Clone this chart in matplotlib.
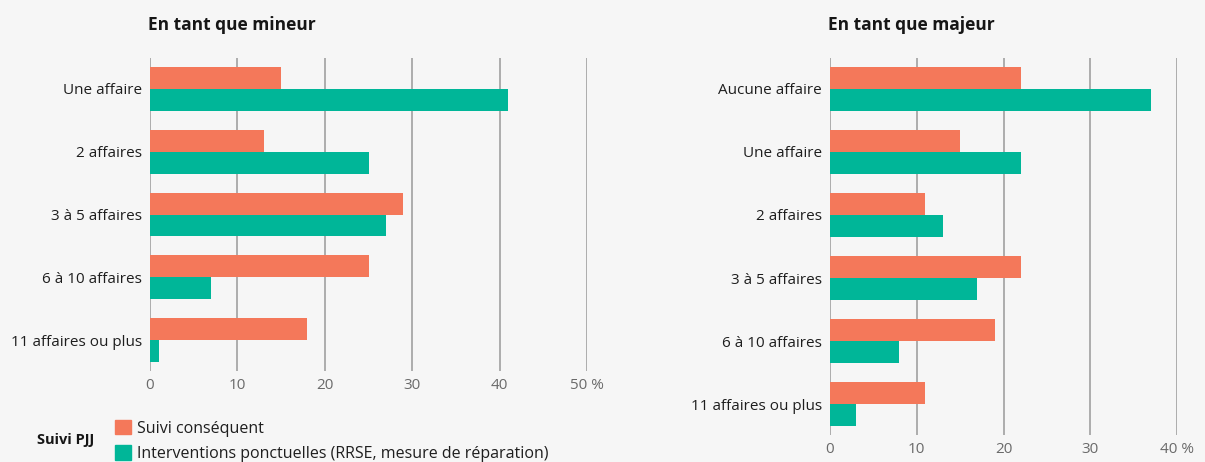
import matplotlib.pyplot as plt
from matplotlib.patches import Patch

# Données
cat_mineur = ["Une affaire", "2 affaires", "3 à 5 affaires", "6 à 10 affaires", "11 affaires ou plus"]
suivi_mineur = [15, 13, 29, 25, 18]
interv_mineur = [41, 25, 27, 7, 1]

cat_majeur = ["Aucune affaire", "Une affaire", "2 affaires", "3 à 5 affaires",
              "6 à 10 affaires", "11 affaires ou plus"]
suivi_majeur = [22, 15, 11, 22, 19, 11]
interv_majeur = [37, 22, 13, 17, 8, 3]

ticks_mineur = [0, 10, 20, 30, 40, 50]
ticks_majeur = [0, 10, 20, 30, 40]

orange = "#F4785A"
vert = "#00B698"
fond = "#F6F6F6"

plt.rcParams['font.family'] = ['Open Sans', 'DejaVu Sans']

W, H = 1205, 462
fig = plt.figure(figsize=(W / 100, H / 100), dpi=100, facecolor=fond)


def panel(rect, cats, s1, s2, ticks, title):
    l, t, r, b = rect
    ax = fig.add_axes([l / W, 1 - b / H, (r - l) / W, (b - t) / H])
    ax.set_facecolor(fond)
    y = list(range(len(cats)))
    ax.barh([i - 0.175 for i in y], s1, height=0.35, color=orange, zorder=3)
    ax.barh([i + 0.175 for i in y], s2, height=0.35, color=vert, zorder=3)
    ax.set_ylim(len(cats) - 1 + 0.49, -0.49)
    ax.set_xlim(0, ticks[-1])
    ax.set_xticks(ticks)
    labs = [str(v) for v in ticks]
    labs[-1] = labs[-1] + " %"
    ax.set_xticklabels(labs)
    ax.set_yticks(y)
    ax.set_yticklabels(cats)
    for v in ticks:
        ax.axvline(v, color="#A0A0A0", lw=1.2, zorder=1)
    for s in ax.spines.values():
        s.set_visible(False)
    ax.tick_params(axis='x', length=0, pad=5, labelsize=11, labelcolor="#6A6A6A")
    ax.tick_params(axis='y', length=0, pad=6, labelsize=11, labelcolor="#1E1E1E")
    fig.text(l / W - 0.002, 1 - 25 / H, title, fontsize=12.5, fontweight='bold',
             color="#161616", va='center', ha='left')
    return ax


panel((150, 58, 587, 371), cat_mineur, suivi_mineur, interv_mineur, ticks_mineur,
      "En tant que mineur")
panel((830, 58, 1177, 435), cat_majeur, suivi_majeur, interv_majeur, ticks_majeur,
      "En tant que majeur")

# Légende
handles = [Patch(color=orange, label="Suivi conséquent"),
           Patch(color=vert, label="Interventions ponctuelles (RRSE, mesure de réparation)")]
fig.legend(handles=handles, loc='upper left', bbox_to_anchor=(115 / W, 1 - 420 / H),
           frameon=False, fontsize=11.5, borderpad=0, borderaxespad=0,
           handlelength=1.0, handleheight=1.0, handletextpad=0.38, labelspacing=0.55,
           labelcolor="#1E1E1E")
fig.text(37 / W, 1 - 440 / H, "Suivi PJJ", fontsize=10.5, fontweight='bold',
         color="#161616", va='center', ha='left')

fig.savefig("out.png", dpi=100, facecolor=fond)
